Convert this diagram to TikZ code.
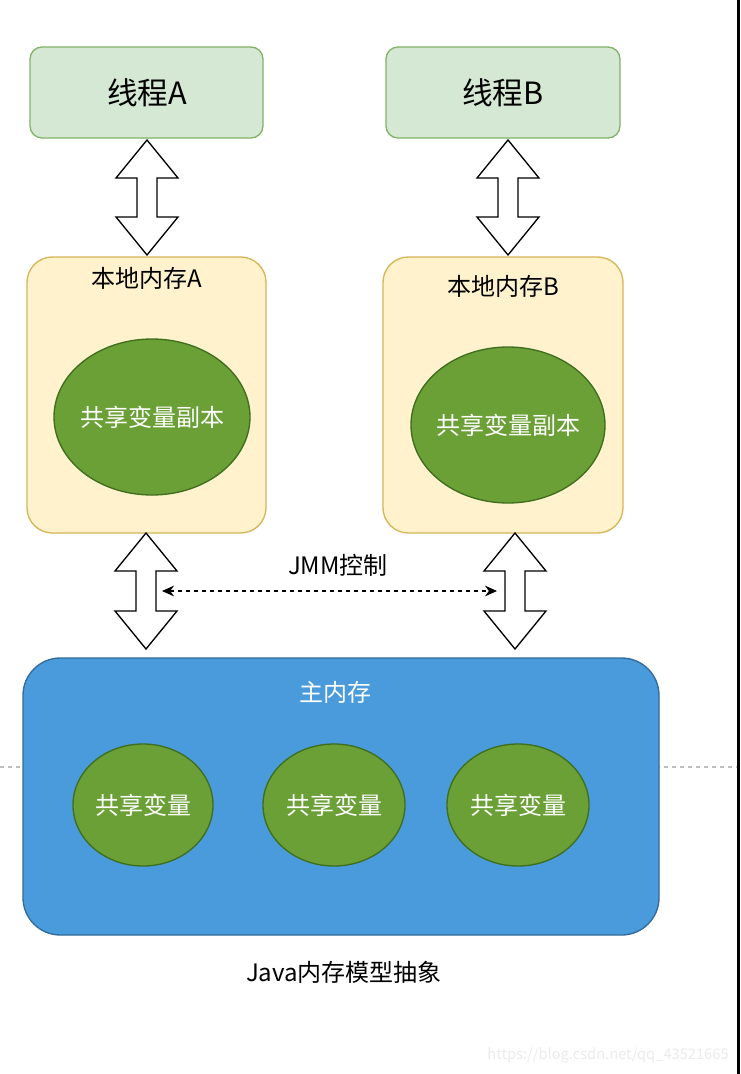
\documentclass[tikz,border=0pt]{standalone}
\usepackage{fontspec}
\setmainfont{Noto Sans CJK SC}
\usetikzlibrary{arrows.meta}
\definecolor{thrfill}{HTML}{D5E8D4}
\definecolor{thrdraw}{HTML}{82B366}
\definecolor{locfill}{HTML}{FFF2CC}
\definecolor{locdraw}{HTML}{D6B656}
\definecolor{grnfill}{HTML}{6AA036}
\definecolor{grndraw}{HTML}{3E6E1E}
\definecolor{blufill}{HTML}{4A9BDB}
\definecolor{bludraw}{HTML}{336A9C}
\definecolor{wmark}{HTML}{EBEBEB}
\tikzset{
  thread/.style={draw=thrdraw,fill=thrfill,line width=1pt,rounded corners=9pt},
  localmem/.style={draw=locdraw,fill=locfill,line width=1pt,rounded corners=19pt},
  mainmem/.style={draw=bludraw,fill=blufill,line width=1pt,rounded corners=28pt},
  var/.style={draw=grndraw,fill=grnfill,line width=1pt},
  arrowshape/.style={draw=black,fill=white,line width=1pt,line join=miter},
  lbl/.style={font=\fontsize{18pt}{20pt}\selectfont,inner sep=0pt},
  wlbl/.style={lbl,text=white},
}
\newcommand{\darrow}[3]{%
 \draw[arrowshape] (#1,#2) -- (#1+31,#2+38) -- (#1+10,#2+38) -- (#1+10,#3-38) -- (#1+31,#3-38) -- (#1,#3) -- (#1-31,#3-38) -- (#1-10,#3-38) -- (#1-10,#2+38) -- (#1-31,#2+38) -- cycle;}
\begin{document}
\begin{tikzpicture}[x=0.75pt,y=-0.75pt]
\useasboundingbox (0,0) rectangle (740,1074);
\fill[white] (0,0) rectangle (740,1074);
\fill[black] (737,0) rectangle (740,1074);
% dashed gray guide line
\draw[gray!50,dashed,line width=0.8pt] (0,767) -- (737,767);
% threads
\draw[thread] (30,47) rectangle (263,138);
\node[inner sep=0pt,font=\fontsize{23pt}{25pt}\selectfont] (tA) at (147,93) {线程A};
\draw[thread] (386,47) rectangle (620,138);
\node[inner sep=0pt,font=\fontsize{23pt}{25pt}\selectfont] (tB) at (503,93) {线程B};
% thread <-> local arrows
\darrow{147}{140}{255}
\darrow{508}{140}{255}
% local memories
\draw[localmem] (27,257) rectangle (266,533);
\node[lbl] (lA) at (147,278) {本地内存A};
\draw[localmem] (383,257) rectangle (623,533);
\node[lbl] (lB) at (503,286) {本地内存B};
\draw[var] (152,417) ellipse [x radius=98,y radius=78];
\node[wlbl] (cA) at (152,417) {共享变量副本};
\draw[var] (508,425) ellipse [x radius=97,y radius=78];
\node[wlbl] (cB) at (508,425) {共享变量副本};
% local <-> main arrows
\darrow{146}{533}{649}
\darrow{515}{533}{649}
% JMM control
\coordinate (jl) at (162,591);
\coordinate (jr) at (497,591);
\draw[dashed,line width=1.2pt,{Stealth[length=9pt,width=8pt]}-{Stealth[length=9pt,width=8pt]}] (jl) -- (jr);
\node[lbl] (jmm) at (338,565) {JMM控制};
% main memory
\draw[mainmem] (23,658) rectangle (659,935);
\node[wlbl] (mm) at (335,692) {主内存};
\draw[var] (143,805) ellipse [x radius=70,y radius=61];
\node[wlbl] (v1) at (143,805) {共享变量};
\draw[var] (334,805) ellipse [x radius=71,y radius=61];
\node[wlbl] (v2) at (334,805) {共享变量};
\draw[var] (518,805) ellipse [x radius=71,y radius=61];
\node[wlbl] (v3) at (518,805) {共享变量};
% caption
\node[lbl] (cap) at (344,972) {Java内存模型抽象};
% watermark
\node[inner sep=0pt,text=wmark,font=\fontsize{11pt}{13pt}\selectfont] (wm) at (608,1055) {https://blog.csdn.net/qq\_43521665};
\end{tikzpicture}
\end{document}
